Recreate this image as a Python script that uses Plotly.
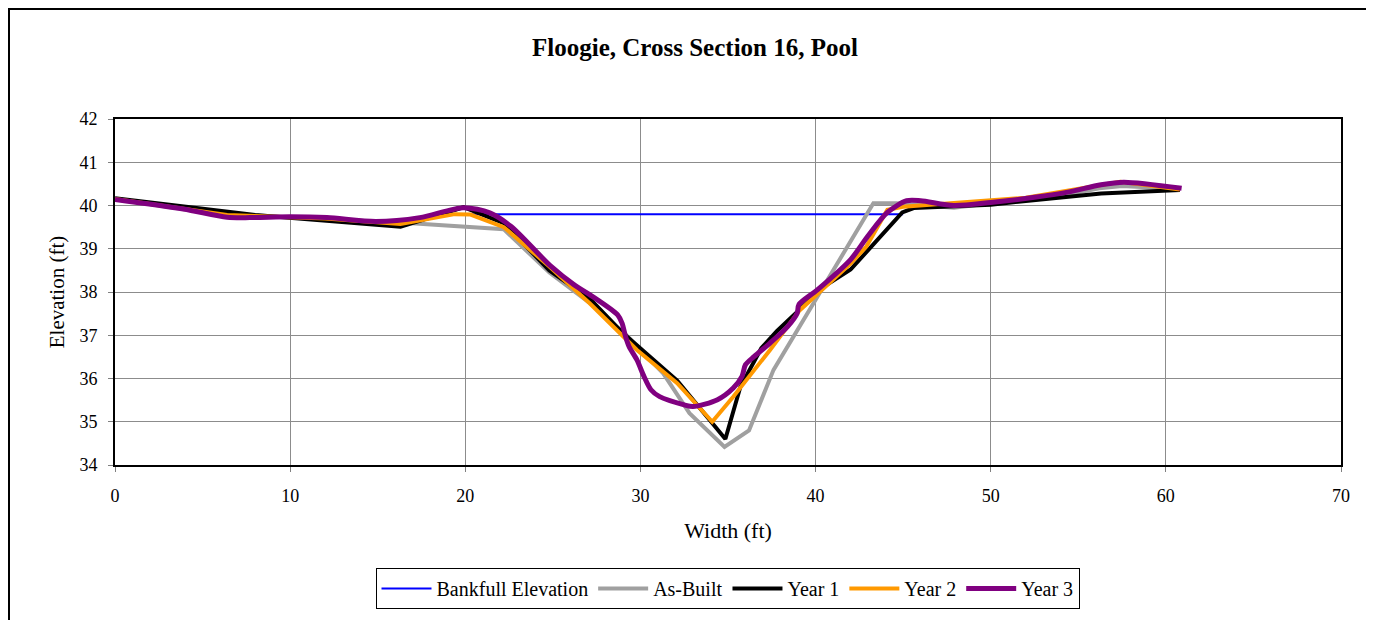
import plotly.graph_objects as go

# ---- data ----
bankfull_x = [20.3, 45.0]
bankfull_y = [39.8, 39.8]

as_built_x = [0, 5, 10, 16.5, 22.2, 24.8, 27.1, 29.2, 31.3, 32.8, 34.8, 36.2, 37.6, 43.3, 44.6, 47.9, 50, 52.4, 54.3, 56.2, 57.5, 60.8]
as_built_y = [40.15, 39.85, 39.72, 39.6, 39.45, 38.45, 37.75, 37.0, 36.12, 35.2, 34.42, 34.8, 36.2, 40.05, 40.05, 39.95, 40.05, 40.15, 40.25, 40.4, 40.45, 40.38]

year1_x = [0, 8, 16.3, 19.9, 22.2, 24.8, 27.1, 29.0, 32.1, 34.85, 35.7, 36.9, 37.8, 40.5, 42.0, 44.95, 45.6, 50.0, 56.3, 60.8]
year1_y = [40.17, 39.78, 39.51, 39.96, 39.59, 38.5, 37.85, 37.05, 35.95, 34.6, 35.8, 36.7, 37.1, 38.13, 38.52, 39.84, 39.94, 40.02, 40.28, 40.36]

year2_x = [0, 6.4, 12, 16.3, 19.4, 20.3, 22.2, 24.8, 27.1, 29.8, 32.1, 34.1, 35.3, 37.4, 39.1, 42.0, 42.9, 44.1, 45.0, 47.9, 52, 57.4, 60.8]
year2_y = [40.15, 39.78, 39.7, 39.57, 39.8, 39.79, 39.5, 38.59, 37.74, 36.66, 35.89, 35.0, 35.58, 36.66, 37.58, 38.66, 39.05, 39.9, 39.97, 40.05, 40.18, 40.55, 40.37]

year3_x = [0, 3.9, 6.4, 7.7, 10, 12.1, 14.9, 17.4, 19.9, 21.4, 22.6, 24.9, 26.2, 27.1, 28.7, 28.95, 29.15, 29.35, 29.8, 30.2, 30.6, 31.1, 32.5, 33.0, 34.4, 35.3, 35.8, 36.0, 36.5, 37.4, 38.4, 38.95, 39.05, 40.1, 42.0, 43.0, 44.1, 45.2, 46.0, 47.9, 50.0, 52.5, 54.4, 56.3, 57.6, 60.9]
year3_y = [40.14, 39.92, 39.73, 39.72, 39.74, 39.72, 39.63, 39.72, 39.95, 39.83, 39.52, 38.59, 38.17, 37.94, 37.47, 37.28, 36.97, 36.74, 36.43, 36.05, 35.74, 35.58, 35.39, 35.35, 35.51, 35.78, 36.05, 36.32, 36.51, 36.82, 37.2, 37.51, 37.71, 38.05, 38.75, 39.3, 39.84, 40.11, 40.11, 40.0, 40.07, 40.19, 40.31, 40.48, 40.54, 40.4]

x_ticks = [0, 10, 20, 30, 40, 50, 60, 70]
y_ticks = [34, 35, 36, 37, 38, 39, 40, 41, 42]

FONT = "Liberation Serif"

fig = go.Figure()
fig.add_trace(go.Scatter(x=bankfull_x, y=bankfull_y, mode="lines", name="Bankfull Elevation",
                         line=dict(color="#0000FF", width=2)))
fig.add_trace(go.Scatter(x=as_built_x, y=as_built_y, mode="lines", name="As-Built",
                         line=dict(color="#A0A0A0", width=4)))
fig.add_trace(go.Scatter(x=year1_x, y=year1_y, mode="lines", name="Year 1",
                         line=dict(color="#000000", width=4)))
fig.add_trace(go.Scatter(x=year2_x, y=year2_y, mode="lines", name="Year 2",
                         line=dict(color="#FF9900", width=4)))
fig.add_trace(go.Scatter(x=year3_x, y=year3_y, mode="lines", name="Year 3",
                         line=dict(color="#800080", width=5, shape="spline", smoothing=0.8)))

# the page body adds an 8px offset; work in screenshot pixels and convert
OFF = 8
W, H = 1366, 612
L, T = 115 - OFF, 119 - OFF
R, B = W - (1341 - OFF), H - (465 - OFF)
pw, ph = W - L - R, H - T - B

def px_x(p):
    return (p - OFF - L) / pw

def px_y(p):
    return (H - B - (p - OFF)) / ph

fig.update_layout(
    width=W, height=H,
    margin=dict(l=L, r=R, t=T, b=B, autoexpand=False),
    paper_bgcolor="white", plot_bgcolor="white",
    font=dict(family=FONT, size=18, color="black"),
    title=dict(text="<b>Floogie, Cross Section 16, Pool</b>", x=(695 - OFF) / W, xref="container", xanchor="center",
               y=1 - (47 - OFF) / H, yref="container", yanchor="middle", font=dict(size=25, family=FONT)),
    xaxis=dict(range=[0, 70], tickvals=x_ticks, showgrid=True, gridcolor="#8C8C8C", gridwidth=1,
               showline=True, linecolor="black", linewidth=2, mirror=True, zeroline=False,
               ticks="outside", ticklen=5, tickcolor="#808080", ticklabelstandoff=8,
               tickfont=dict(size=18, family=FONT),
               title=dict(text="Width (ft)", font=dict(size=22, family=FONT), standoff=18)),
    yaxis=dict(range=[34, 42], tickvals=y_ticks, showgrid=True, gridcolor="#8C8C8C", gridwidth=1,
               showline=True, linecolor="black", linewidth=2, mirror=True, zeroline=False,
               ticks="outside", ticklen=5, tickcolor="#808080", ticklabelstandoff=7,
               tickfont=dict(size=18, family=FONT),
               title=dict(text="Elevation (ft)", font=dict(size=21, family=FONT), standoff=9)),
    legend=dict(orientation="h", x=(727.5 - OFF - L) / pw, xanchor="center", y=px_y(568), yanchor="top",
                bordercolor="black", borderwidth=1, font=dict(size=20, family=FONT), itemwidth=50,
                tracegroupgap=0),
    showlegend=True,
)

# outer chart frame (top and left edges visible)
fig.add_shape(type="line", xref="paper", yref="paper", x0=px_x(OFF + 0.5), x1=px_x(1400), y0=px_y(OFF + 0.5), y1=px_y(OFF + 0.5),
              line=dict(color="black", width=3))
fig.add_shape(type="line", xref="paper", yref="paper", x0=px_x(OFF + 0.5), x1=px_x(OFF + 0.5), y0=px_y(OFF), y1=px_y(640),
              line=dict(color="black", width=3))

fig.write_html("out.html")
